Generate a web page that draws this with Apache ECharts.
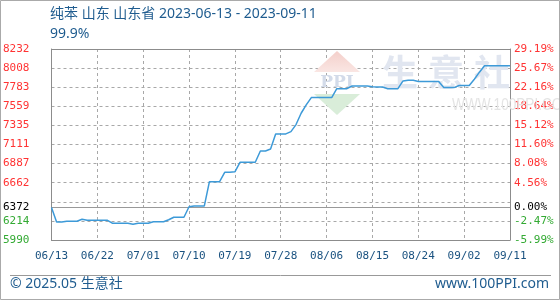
<!DOCTYPE html>
<html><head><meta charset="utf-8">
<script src="https://cdn.jsdelivr.net/npm/echarts@6/dist/echarts.min.js"></script>
<style>html,body{margin:0;padding:0;background:#fff}#c{width:560px;height:300px}</style>
</head><body><div id="c"></div>
<script>
const titleText = '纯苯 山东 山东省 2023-06-13 - 2023-09-11';
const subTitleText = '99.9%';
const footerLeft = '© 2025.05 生意社';
const footerRight = 'www.100PPI.com';
const dateTickLabels = ['06/13','06/22','07/01','07/10','07/19','07/28','08/06','08/15','08/24','09/02','09/11'];
const priceTickLabels = ['5990','6214','6372','6662','6887','7111','7335','7559','7783','8008','8232'];
const pctTickLabels = ['-5.99%','-2.47%','0.00%','4.56%','8.08%','11.60%','15.12%','18.64%','22.16%','25.67%','29.19%'];
const baseValue = 6372;
const prices = [
  6372, 6200, 6200, 6210, 6210, 6210, 6233, 6221, 6221, 6221,
  6221, 6221, 6186, 6186, 6186, 6186, 6174, 6186, 6186, 6186,
  6205, 6205, 6205, 6228, 6257, 6257, 6257, 6380, 6390, 6390,
  6390, 6675, 6675, 6675, 6785, 6785, 6790, 6902, 6902, 6902,
  6902, 7035, 7035, 7058, 7235, 7235, 7235, 7262, 7345, 7478,
  7576, 7662, 7662, 7662, 7662, 7662, 7766, 7766, 7766, 7798,
  7798, 7798, 7798, 7790, 7785, 7785, 7766, 7766, 7766, 7857,
  7865, 7865, 7850, 7850, 7850, 7850, 7850, 7779, 7779, 7779,
  7803, 7803, 7803, 7877, 7960, 8035, 8035, 8035, 8035, 8035,
  8035
];

const tickVals = priceTickLabels.map(Number);
const yMin = tickVals[0], yMax = tickVals[tickVals.length - 1];
const dayStep = 9;
const lastDay = (dateTickLabels.length - 1) * dayStep;
const labelFont = '"DejaVu Sans Mono", monospace';
const textFont = '"Noto Sans", "Noto Sans CJK SC", sans-serif';
const blue = '#1f5c8f';

function richKey(i) { return i < 2 ? 'dn' : (i === 2 ? 'bs' : 'up'); }

function buildOption() {
  const border = { show: true, onZero: false, lineStyle: { color: '#8c8c8c', width: 1 } };
  const gl = { color: '#a8a8a8', width: 1, type: [3, 3] };
  const rich = {
    up: { color: '#ff3333', fontFamily: labelFont, fontSize: 11 },
    bs: { color: '#000000', fontFamily: labelFont, fontSize: 11 },
    dn: { color: '#33aa33', fontFamily: labelFont, fontSize: 11 }
  };
  return {
    animation: false, backgroundColor: '#ffffff',
    grid: { left: 51, right: 50, top: 49, bottom: 60 },
    xAxis: [{
      type: 'value', min: 0, max: lastDay, interval: dayStep, position: 'bottom',
      axisLine: border, axisTick: { show: false },
      splitLine: { show: true, lineStyle: gl },
      axisLabel: { margin: 11, color: '#1a5280', fontFamily: labelFont, fontSize: 11,
        formatter: x => dateTickLabels[Math.round(x / dayStep)] || '' }
    }, {
      type: 'value', min: 0, max: lastDay, position: 'top',
      axisLine: border, axisTick: { show: false }, axisLabel: { show: false }, splitLine: { show: false }
    }],
    yAxis: [{
      type: 'value', min: yMin, max: yMax, position: 'left',
      axisLine: border, axisTick: { show: false }, splitLine: { show: false },
      axisLabel: { margin: 22, customValues: tickVals, rich: rich,
        formatter: x => { const i = priceTickLabels.indexOf(String(Math.round(x))); return i < 0 ? '' : '{' + richKey(i) + '|' + priceTickLabels[i] + '}'; } }
    }, {
      type: 'value', min: yMin, max: yMax, position: 'right',
      axisLine: border, axisTick: { show: false }, splitLine: { show: false },
      axisLabel: { margin: 4, customValues: tickVals, rich: rich,
        formatter: x => { const i = priceTickLabels.indexOf(String(Math.round(x))); return i < 0 ? '' : '{' + richKey(i) + '|' + pctTickLabels[i] + '}'; } }
    }, {
      type: 'value', min: 0, max: priceTickLabels.length - 1, interval: 1, position: 'left',
      axisLine: { show: false }, axisTick: { show: false }, axisLabel: { show: false },
      splitLine: { show: true, lineStyle: { color: '#a8a8a8', width: 1, type: [3, 3] } }
    }],
    series: [{
      type: 'line', yAxisIndex: 0, xAxisIndex: 0,
      data: prices.map((p, i) => [i, p]),
      showSymbol: false, symbol: 'none',
      lineStyle: { color: '#3d9ad8', width: 1.5 }, itemStyle: { color: '#3d9ad8' }, z: 5,
      markLine: { silent: true, symbol: 'none', label: { show: false }, animation: false,
        lineStyle: { color: '#999999', type: 'solid', width: 1 }, data: [{ yAxis: baseValue }] }
    }],
    graphic: [
      { type: 'polyline', shape: { points: [[0.5, 0.5], [559.5, 0.5], [559.5, 299.5], [0.5, 299.5], [0.5, 0.5]] }, style: { stroke: '#aaaaaa', lineWidth: 1 }, silent: true, z: 10 },
      { type: 'text', left: 50, top: 7, style: { text: titleText, fill: blue, fontSize: 14, fontFamily: textFont }, z: 10 },
      { type: 'text', left: 50, top: 27, style: { text: subTitleText, fill: blue, fontSize: 14, fontFamily: textFont }, z: 10 },
      { type: 'line', shape: { x1: 10, y1: 275.5, x2: 551, y2: 275.5 }, style: { stroke: '#999999', lineWidth: 1 }, z: 10 },
      { type: 'text', left: 10, top: 277, style: { text: footerLeft, fill: blue, fontSize: 14, fontFamily: textFont }, z: 10 },
      { type: 'text', right: 11, top: 277, style: { text: footerRight, fill: blue, fontSize: 14, fontFamily: textFont }, z: 10 },
      { type: 'polygon', shape: { points: [[314, 72], [337, 51], [360, 72]] }, style: { fill: new echarts.graphic.LinearGradient(0, 0, 0, 1, [{ offset: 0, color: '#f4cfca' }, { offset: 1, color: '#fae6e3' }]) }, z: 1, silent: true },
      { type: 'text', x: 337, y: 83, style: { text: 'PPI', fill: '#d3dbe9', fontSize: 17, fontWeight: 'bold', fontFamily: '"DejaVu Serif", serif', align: 'center', verticalAlign: 'middle' }, z: 1, silent: true },
      { type: 'polygon', shape: { points: [[314, 94], [360, 94], [337, 115]] }, style: { fill: '#d9edd9' }, z: 1, silent: true },
      { type: 'text', x: 400, y: 72, style: { text: '生', fill: '#e1e6f0', fontSize: 36, fontWeight: 'bold', fontFamily: '"Noto Sans CJK SC"', align: 'center', verticalAlign: 'middle' }, z: 1, silent: true },
      { type: 'text', x: 446, y: 72, style: { text: '意', fill: '#e1e6f0', fontSize: 36, fontWeight: 'bold', fontFamily: '"Noto Sans CJK SC"', align: 'center', verticalAlign: 'middle' }, z: 1, silent: true },
      { type: 'text', x: 492, y: 72, style: { text: '社', fill: '#e1e6f0', fontSize: 36, fontWeight: 'bold', fontFamily: '"Noto Sans CJK SC"', align: 'center', verticalAlign: 'middle' }, z: 1, silent: true },
      { type: 'text', x: 446, y: 106, scaleX: 0.85, originX: 446, originY: 106, style: { text: 'WWW.100PPI.COM', fill: '#e4e4e4', fontSize: 16, fontFamily: '"Liberation Sans", sans-serif', align: 'center', verticalAlign: 'middle' }, z: 1, silent: true }
    ]
  };
}
echarts.init(document.getElementById('c')).setOption(buildOption());
</script>
</body></html>
